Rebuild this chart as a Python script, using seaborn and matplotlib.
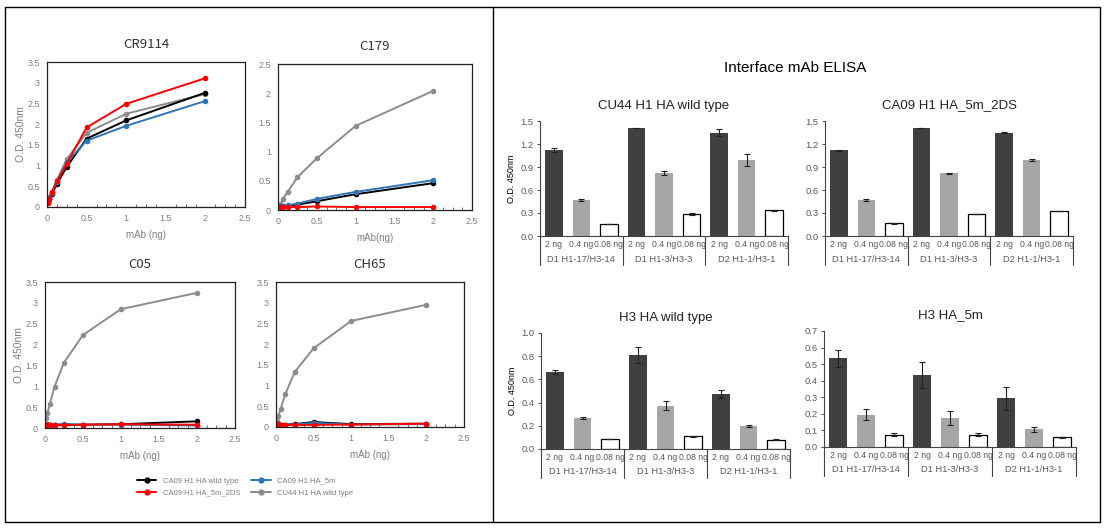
import numpy as np
import pandas as pd
import seaborn as sns
import matplotlib
matplotlib.use("Agg")
import matplotlib.pyplot as plt
from matplotlib.lines import Line2D
from matplotlib.ticker import FuncFormatter, MultipleLocator

sns.set_theme(style="white")
plt.rcParams['font.family'] = ['Liberation Sans', 'DejaVu Sans']

# ---------------- data: line charts ----------------
x_ng = [0.015625, 0.03125, 0.0625, 0.125, 0.25, 0.5, 1.0, 2.0]
constructs = ["CA09 H1 HA wild type", "CA09 H1 HA_5m_2DS", "CA09 H1 HA_5m", "CU44 H1 HA wild type"]
antibodies = ["CR9114", "C179", "C05", "CH65"]

cr9114_black = [0.12, 0.20, 0.31, 0.56, 0.97, 1.65, 2.09, 2.76]
cr9114_blue = [0.13, 0.22, 0.34, 0.60, 1.08, 1.60, 1.96, 2.56]
cr9114_red = [0.10, 0.19, 0.36, 0.62, 1.05, 1.92, 2.49, 3.11]
cr9114_gray = [0.15, 0.25, 0.37, 0.66, 1.16, 1.79, 2.25, 2.73]

c179_black = [0.05, 0.05, 0.06, 0.07, 0.09, 0.15, 0.27, 0.46]
c179_blue = [0.05, 0.05, 0.06, 0.08, 0.11, 0.19, 0.31, 0.51]
c179_red = [0.04, 0.05, 0.05, 0.05, 0.05, 0.06, 0.05, 0.05]
c179_gray = [0.07, 0.10, 0.19, 0.31, 0.56, 0.885, 1.44, 2.04]

c05_black = [0.08, 0.08, 0.07, 0.07, 0.07, 0.08, 0.09, 0.16]
c05_blue = [0.09, 0.08, 0.08, 0.08, 0.10, 0.08, 0.08, 0.06]
c05_red = [0.08, 0.09, 0.08, 0.08, 0.07, 0.08, 0.09, 0.08]
c05_gray = [0.24, 0.35, 0.57, 0.99, 1.57, 2.23, 2.85, 3.24]

ch65_black = [0.06, 0.07, 0.06, 0.06, 0.07, 0.12, 0.07, 0.08]
ch65_blue = [0.07, 0.07, 0.06, 0.06, 0.06, 0.10, 0.06, 0.07]
ch65_red = [0.07, 0.08, 0.06, 0.05, 0.05, 0.05, 0.06, 0.08]
ch65_gray = [0.15, 0.27, 0.44, 0.80, 1.33, 1.90, 2.56, 2.95]

line_ymax = {"CR9114": 3.5, "C179": 2.5, "C05": 3.5, "CH65": 3.5}
line_xlabels = {"CR9114": "mAb (ng)", "C179": "mAb(ng)", "C05": "mAb (ng)", "CH65": "mAb (ng)"}

# ---------------- data: bar charts ----------------
doses = ["2 ng", "0.4 ng", "0.08 ng"]
groups = ["D1 H1-17/H3-14", "D1 H1-3/H3-3", "D2 H1-1/H3-1"]
bar_titles = ["CU44 H1 HA wild type", "CA09 H1 HA_5m_2DS", "H3 HA wild type", "H3 HA_5m"]

cu44_vals = [1.12, 0.47, 0.16, 1.41, 0.82, 0.29, 1.35, 0.99, 0.335]
cu44_err = [0.03, 0.015, 0.0, 0.005, 0.03, 0.01, 0.05, 0.08, 0.005]
ca09_vals = [1.12, 0.47, 0.165, 1.41, 0.82, 0.29, 1.35, 0.99, 0.33]
ca09_err = [0.008, 0.008, 0.01, 0.005, 0.008, 0.0, 0.008, 0.008, 0.0]
h3wt_vals = [0.665, 0.265, 0.09, 0.81, 0.375, 0.11, 0.475, 0.20, 0.08]
h3wt_err = [0.015, 0.008, 0.0, 0.07, 0.04, 0.005, 0.035, 0.01, 0.004]
h35m_vals = [0.535, 0.195, 0.075, 0.435, 0.175, 0.075, 0.295, 0.108, 0.058]
h35m_err = [0.05, 0.035, 0.01, 0.08, 0.04, 0.01, 0.07, 0.015, 0.003]

bar_ymax = [1.5, 1.5, 1.0, 0.7]
bar_ystep = [0.3, 0.3, 0.2, 0.1]

# ---------------- figure ----------------
W, H = 1105, 529
fig = plt.figure(figsize=(W / 100, H / 100), dpi=100)
fig.patch.set_facecolor("white")


def rect(l, r, t, b):
    return [l / W, 1 - b / H, (r - l) / W, (b - t) / H]


line_colors = {"CA09 H1 HA wild type": "#000000", "CA09 H1 HA_5m": "#2e75b6",
               "CA09 H1 HA_5m_2DS": "#ff0000", "CU44 H1 HA wild type": "#8c8c8c"}
line_data = {
    "CR9114": [cr9114_black, cr9114_red, cr9114_blue, cr9114_gray],
    "C179": [c179_black, c179_red, c179_blue, c179_gray],
    "C05": [c05_black, c05_red, c05_blue, c05_gray],
    "CH65": [ch65_black, ch65_red, ch65_blue, ch65_gray],
}
rows = []
for ab in antibodies:
    for cname, vals in zip(constructs, line_data[ab]):
        for xv, yv in zip(x_ng, vals):
            rows.append({"antibody": ab, "construct": cname, "mAb": xv, "OD": yv})
ldf = pd.DataFrame(rows)

line_rects = {"CR9114": rect(47, 245, 62, 207), "C179": rect(278, 472, 64, 210),
              "C05": rect(45, 235, 282, 428), "CH65": rect(276, 464, 282, 427)}
hue_draw = ["CU44 H1 HA wild type", "CA09 H1 HA wild type", "CA09 H1 HA_5m", "CA09 H1 HA_5m_2DS"]
fmt_g = FuncFormatter(lambda v, p: f"{v:g}")
tick_gray = "#7f7f7f"
for ab in antibodies:
    ax = fig.add_axes(line_rects[ab])
    sns.lineplot(data=ldf[ldf.antibody == ab], x="mAb", y="OD", hue="construct",
                 hue_order=hue_draw, palette=line_colors, marker="o", markersize=4,
                 markeredgewidth=0, linewidth=1.4, ax=ax, legend=False)
    ax.set_xlim(0, 2.5)
    ax.set_ylim(0, line_ymax[ab])
    ax.xaxis.set_major_locator(MultipleLocator(0.5))
    ax.yaxis.set_major_locator(MultipleLocator(0.5))
    ax.xaxis.set_minor_locator(MultipleLocator(0.125))
    ax.xaxis.set_major_formatter(fmt_g)
    ax.yaxis.set_major_formatter(fmt_g)
    ax.tick_params(axis="both", which="major", length=0, labelsize=6.5, labelcolor=tick_gray, pad=5)
    ax.tick_params(axis="x", which="minor", bottom=True, direction="in", length=2, width=0.6, color="#555555")
    for s in ax.spines.values():
        s.set_color("#222222")
        s.set_linewidth(0.9)
    ax.set_title(ab, fontsize=9.5, color="#333333", pad=10, family=["Noto Sans CJK KR", "DejaVu Sans"])
    ax.set_xlabel(line_xlabels[ab], fontsize=7, color=tick_gray, labelpad=5)
    if ab in ("CR9114", "C05"):
        ax.set_ylabel("O.D. 450nm", fontsize=7.5, color=tick_gray, labelpad=1)
    else:
        ax.set_ylabel("")

leg_order = ["CA09 H1 HA wild type", "CA09 H1 HA_5m_2DS", "CA09 H1 HA_5m", "CU44 H1 HA wild type"]
handles = [Line2D([0], [0], color=line_colors[c], marker="o", markersize=3.5, lw=1.4) for c in leg_order]
leg = fig.legend(handles, leg_order, loc="center", bbox_to_anchor=(245 / W, 1 - 487 / H), ncol=2,
                 frameon=False, fontsize=5.5, handlelength=2.6, columnspacing=1.5, labelspacing=0.6)
for t in leg.get_texts():
    t.set_color(tick_gray)

# ---------------- bar charts ----------------
bar_rects = [rect(540, 788, 121, 236), rect(825, 1073, 121, 236),
             rect(541, 790, 333, 449), rect(824, 1076, 331, 447)]
bar_vals = [cu44_vals, ca09_vals, h3wt_vals, h35m_vals]
bar_errs = [cu44_err, ca09_err, h3wt_err, h35m_err]
dose_colors = {"2 ng": "#404040", "0.4 ng": "#a6a6a6", "0.08 ng": "#ffffff"}
keys = [f"{g}|{d}" for g in groups for d in doses]
bar_gray = "#595959"

for i in range(4):
    ax = fig.add_axes(bar_rects[i])
    bdf = pd.DataFrame({"key": keys, "dose": [d for g in groups for d in doses],
                        "group": [g for g in groups for d in doses], "OD": bar_vals[i]})
    sns.barplot(data=bdf, x="key", y="OD", hue="dose", order=keys, hue_order=doses,
                palette=dose_colors, dodge=False, width=0.64, errorbar=None, legend=False,
                linewidth=0, ax=ax)
    for p in ax.patches:
        fc = p.get_facecolor()
        if fc[0] > 0.9:
            p.set_edgecolor("black")
            p.set_linewidth(0.9)
    ax.errorbar(np.arange(9), bar_vals[i], yerr=bar_errs[i], fmt="none", ecolor="#222222",
                elinewidth=0.8, capsize=2, capthick=0.8)
    ax.set_xlim(-0.5, 8.5)
    ax.set_ylim(0, bar_ymax[i])
    ax.set_yticks(np.arange(0, bar_ymax[i] + 1e-9, bar_ystep[i]))
    ax.yaxis.set_major_formatter(FuncFormatter(lambda v, p: f"{v:.1f}"))
    ax.set_xticks(np.arange(9))
    ax.set_xticklabels([d for g in groups for d in doses])
    ax.tick_params(axis="x", length=0, labelsize=6.2, labelcolor=bar_gray, pad=3)
    ax.tick_params(axis="y", left=True, length=2.5, width=0.6, direction="out",
                   labelsize=6.8, labelcolor=bar_gray, pad=2, color="#333333")
    for s in ("top", "right"):
        ax.spines[s].set_visible(False)
    for s in ("left", "bottom"):
        ax.spines[s].set_color("#444444")
        ax.spines[s].set_linewidth(0.8)
    ax.set_xlabel("")
    if i in (0, 2):
        ax.set_ylabel("O.D. 450nm", fontsize=6.5, color="black", labelpad=3)
    else:
        ax.set_ylabel("")
    ax.set_title(bar_titles[i], fontsize=9.5, color="#222222", pad=9)
    hpx = ax.get_position().height * H
    tr = ax.get_xaxis_transform()
    for xb in (-0.5, 2.5, 5.5, 8.5):
        ax.plot([xb, xb], [0, -29 / hpx], transform=tr, color="#444444", lw=0.8, clip_on=False)
    for gi, g in enumerate(groups):
        ax.text(gi * 3 + 1, -23 / hpx, g, transform=tr, ha="center", va="center",
                fontsize=6.7, color=bar_gray)

fig.text(795 / W, 1 - 68 / H, "Interface mAb ELISA", ha="center", va="center", fontsize=11, color="black")

# ---------------- outer frame ----------------
for xs, ys in [([5, 1100], [7, 7]), ([5, 1100], [522, 522]), ([5, 5], [7, 522]),
               ([1100, 1100], [7, 522]), ([493, 493], [7, 522])]:
    fig.add_artist(Line2D([x / W for x in xs], [1 - y / H for y in ys], color="black", lw=1.0))

fig.savefig("out.png", dpi=100, facecolor="white")
